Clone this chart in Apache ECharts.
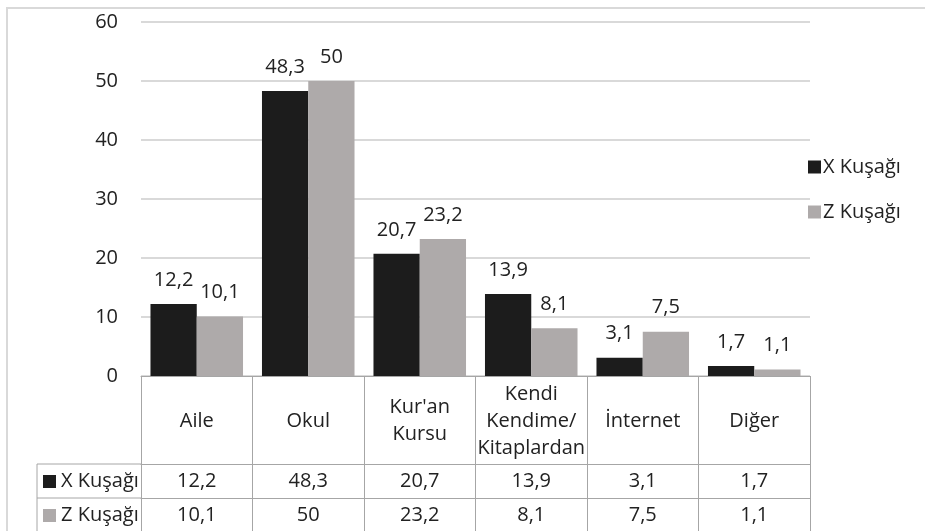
<!DOCTYPE html>
<html>
<head>
<meta charset="utf-8">
<script src="https://cdn.jsdelivr.net/npm/echarts@6/dist/echarts.min.js"></script>
<style>
    html, body { margin: 0; padding: 0; background: #fff; }
    #chart { width: 925px; height: 531px; }
</style>
</head>
<body>
<div id="chart"></div>
<script>
// kategoriler ve seriler
var categories = ['Aile', 'Okul', "Kur'an\nKursu", 'Kendi\nKendime/\nKitaplardan', 'İnternet', 'Diğer'];
var seriesNames = ['X Kuşağı', 'Z Kuşağı'];
var xKusagi = [12.2, 48.3, 20.7, 13.9, 3.1, 1.7];
var zKusagi = [10.1, 50, 23.2, 8.1, 7.5, 1.1];
var yTicks = [0, 10, 20, 30, 40, 50, 60];

var colors = ['#1c1c1c', '#aeaaaa'];
var textColor = '#222222';
var tableLine = '#a6a6a6';
var fontName = 'Open Sans';
var fontSize = 20;

// plot alani
var gridLeft = 141, gridRight = 115, gridTop = 22, gridBottom = 155;
var W = 925, H = 531;
var axisY = H - gridBottom;          // tablonun ust cizgisi
var headerH = 88, rowH = 34;
var tableLeft = 37;

function fmt(v) {
    return String(v).replace('.', ',');
}

function rowAxis(offset, values) {
    return {
        type: 'category',
        data: categories,
        gridIndex: 0,
        position: 'bottom',
        offset: offset,
        axisLine: { show: true, lineStyle: { color: tableLine, width: 1 } },
        axisTick: { show: false },
        axisLabel: {
            interval: 0,
            margin: 17,
            verticalAlign: 'middle',
            fontFamily: fontName,
            fontSize: fontSize,
            color: textColor,
            formatter: function (v, i) { return fmt(values[i]); }
        }
    };
}

// tablonun sol sutunu (seri adlari)
function rowHeader(i) {
    var top = axisY + headerH + rowH * i;
    return [{
        type: 'line',
        shape: { x1: tableLeft, y1: top, x2: gridLeft, y2: top },
        style: { stroke: tableLine, lineWidth: 1 }
    }, {
        type: 'rect',
        shape: { x: tableLeft + 6, y: top + rowH / 2 - 6, width: 13, height: 13 },
        style: { fill: colors[i] }
    }, {
        type: 'text',
        x: tableLeft + 24,
        y: top + rowH / 2,
        style: {
            text: seriesNames[i],
            fontFamily: fontName,
            fontSize: fontSize,
            fill: textColor,
            verticalAlign: 'middle'
        }
    }];
}

var graphics = [{
    type: 'rect',
    shape: { x: 7, y: 8, width: W + 50, height: H + 50 },
    style: { fill: 'none', stroke: '#d9d9d9', lineWidth: 2 },
    silent: true
}, {
    type: 'line',
    shape: { x1: tableLeft, y1: axisY + headerH, x2: tableLeft, y2: H + 5 },
    style: { stroke: tableLine, lineWidth: 1 }
}].concat(rowHeader(0), rowHeader(1));

var myChart = echarts.init(document.getElementById('chart'));
var option = {
    animation: false,
    textStyle: { fontFamily: fontName },
    legend: {
        orient: 'vertical',
        left: 803,
        top: 152,
        itemWidth: 13,
        itemHeight: 13,
        itemGap: 25,
        icon: 'rect',
        textStyle: { fontFamily: fontName, fontSize: fontSize, color: textColor, padding: [0, 0, 0, -3] },
        data: seriesNames
    },
    grid: { left: gridLeft, right: gridRight, top: gridTop, bottom: gridBottom },
    xAxis: [{
        type: 'category',
        data: categories,
        position: 'bottom',
        axisLine: { show: true, lineStyle: { color: tableLine, width: 1 } },
        axisTick: { show: true, interval: 0, length: headerH + rowH * 2 + 10, lineStyle: { color: tableLine, width: 1 } },
        axisLabel: {
            interval: 0,
            margin: headerH / 2 + 1,
            verticalAlign: 'middle',
            lineHeight: 27,
            fontFamily: fontName,
            fontSize: fontSize,
            color: textColor
        }
    }, rowAxis(headerH, xKusagi), rowAxis(headerH + rowH, zKusagi)],
    yAxis: {
        type: 'value',
        min: yTicks[0],
        max: yTicks[yTicks.length - 1],
        interval: 10,
        axisLine: { show: false },
        axisTick: { show: false },
        splitLine: { lineStyle: { color: '#d9d9d9', width: 2 } },
        axisLabel: { margin: 23, fontFamily: fontName, fontSize: fontSize, color: textColor }
    },
    series: [{
        name: seriesNames[0],
        type: 'bar',
        data: xKusagi,
        barGap: '0%',
        barCategoryGap: '17%',
        itemStyle: { color: colors[0] },
        label: {
            show: true, position: 'top', distance: 14,
            fontFamily: fontName, fontSize: fontSize, color: textColor,
            formatter: function (p) { return fmt(p.value); }
        }
    }, {
        name: seriesNames[1],
        type: 'bar',
        data: zKusagi,
        barGap: '0%',
        barCategoryGap: '17%',
        itemStyle: { color: colors[1] },
        label: {
            show: true, position: 'top', distance: 14,
            fontFamily: fontName, fontSize: fontSize, color: textColor,
            formatter: function (p) { return fmt(p.value); }
        }
    }],
    graphic: graphics
};
myChart.setOption(option);
</script>
</body>
</html>
